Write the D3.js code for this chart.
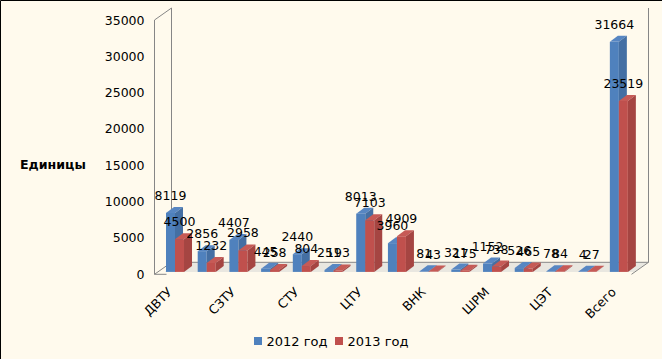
<!DOCTYPE html>
<html>
<head>
<meta charset="utf-8">
<script src="https://cdn.jsdelivr.net/npm/d3@7"></script>
<style>
html, body { margin: 0; padding: 0; background: #fffaed; }
svg { display: block; }
text { font-family: "DejaVu Sans", sans-serif; fill: #000; }
</style>
</head>
<body>
<div id="chart-area"></div>
<script>
/* 3D style clustered columns, two years */

// only every second category is labelled in the picture
var categories = ["ДВТУ", "", "СЗТУ", " ", "СТУ", "  ", "ЦТУ", "   ", "ВНК", "    ", "ШРМ", "     ", "ЦЭТ", "      ", "Всего"];
var values2012 = [8119, 2856, 4407, 445, 2440, 251, 8013, 3960, 81, 321, 1152, 526, 78, 4, 31664];
var values2013 = [4500, 1232, 2958, 258, 804, 193, 7103, 4909, 43, 175, 738, 465, 84, 27, 23519];
var yTicks = [0, 5000, 10000, 15000, 20000, 25000, 30000, 35000];
var seriesNames = ["2012 год", "2013 год"];

var width = 662, height = 359;
var depthX = 17, depthY = 12;      // wall depth
var barDepthX = 8, barDepthY = 6;  // bar depth

var svg = d3.select("#chart-area")
    .append("svg")
    .attr("width", width)
    .attr("height", height);

svg.append("rect")
    .attr("width", width).attr("height", height)
    .attr("fill", "#fffaed");

// black edge on top and left only
svg.append("path")
    .attr("d", d3.line()([[0.5, height], [0.5, 0.5], [width, 0.5]]))
    .attr("fill", "none")
    .attr("stroke", "#000");

var x = d3.scaleBand()
    .domain(categories)
    .range([159.66, 634.2])
    .paddingInner(0.432)
    .paddingOuter(0.2);

var inner = d3.scaleBand()
    .domain([0, 1])
    .range([0, x.bandwidth()]);

var y = d3.scaleLinear()
    .domain([0, 35000])
    .range([274.3, 20]);

var axisX0 = 154.5, axisX1 = 631.5;
var y0 = y(0), yTop = y(35000);
var baseShift = 2.4;  // bars stand slightly behind the front edge

// floor
svg.append("path")
    .attr("d", d3.line()([
        [165, y0 - baseShift], [axisX1 + 2, y0 - baseShift],
        [axisX1 + depthX, y0 - depthY], [axisX0 + depthX, y0 - depthY]
    ]))
    .attr("fill", "#e9e7e0");

// walls
var wall = svg.append("g")
    .attr("fill", "none")
    .attr("stroke", "#868686")
    .attr("stroke-width", 1);

wall.append("path")
    .attr("d", d3.line()([
        [axisX0, y0], [axisX0, yTop], [axisX0 + depthX, yTop - depthY],
        [axisX0 + depthX, y0 - depthY], [axisX1 + depthX, y0 - depthY],
        [axisX1 + depthX, yTop - depthY]
    ]));
wall.append("path")
    .attr("d", d3.line()([[axisX0, y0], [axisX0 + depthX, y0 - depthY]]));
wall.append("path")
    .attr("d", d3.line()([[axisX1, y0], [axisX1 + depthX, y0 - depthY]]));
wall.append("path")
    .attr("d", d3.line()([[axisX0, y0], [axisX0 + 12, y0]]));

var yAxisCall = d3.axisLeft(y)
    .tickValues(yTicks)
    .tickSize(0)
    .tickPadding(10)
    .tickFormat(d3.format("d"));

svg.append("g")
    .attr("class", "y-axis")
    .attr("transform", "translate(" + axisX0 + ",0)")
    .call(yAxisCall)
    .call(function(g) { g.select(".domain").remove(); })
    .selectAll("text")
    .attr("font-size", "12.5px")
    .attr("font-family", "DejaVu Sans");

var xAxisCall = d3.axisBottom(x)
    .tickSize(0)
    .tickFormat(function(d) { return d.trim(); });

svg.append("g")
    .attr("class", "x-axis")
    .attr("transform", "translate(0," + y0 + ")")
    .call(xAxisCall)
    .call(function(g) { g.select(".domain").remove(); })
    .selectAll("text")
    .attr("font-size", "12.5px")
    .attr("font-family", "DejaVu Sans")
    .attr("text-anchor", "end")
    .attr("x", 0)
    .attr("y", 0)
    .attr("dy", 0)
    .attr("transform", "translate(-2,18.5) rotate(-45)");

svg.append("text")
    .attr("x", 20)
    .attr("y", 169)
    .attr("font-size", "12.6px")
    .attr("font-weight", "bold")
    .text("Единицы");

var colors = [
    { front: "#4f81bd", top: "#5786c2", side: "#446fa3" },
    { front: "#c0504d", top: "#c65a56", side: "#a54542" }
];

function drawBar(parent, left, w, v, c) {
    var bottom = y(0) - baseShift, top = y(v) - baseShift;
    parent.append("rect")
        .attr("x", left).attr("y", top)
        .attr("width", w).attr("height", bottom - top)
        .attr("fill", c.front);
    parent.append("path")
        .attr("d", d3.line()([[left, top], [left + w, top], [left + w + barDepthX, top - barDepthY], [left + barDepthX, top - barDepthY]]))
        .attr("fill", c.top);
    parent.append("path")
        .attr("d", d3.line()([[left + w, top], [left + w + barDepthX, top - barDepthY], [left + w + barDepthX, bottom - barDepthY], [left + w, bottom]]))
        .attr("fill", c.side);
}

var bars = svg.append("g").attr("class", "bars");
categories.forEach(function(cat, i) {
    drawBar(bars, x(cat) + inner(0), inner.bandwidth(), values2012[i], colors[0]);
    drawBar(bars, x(cat) + inner(1), inner.bandwidth(), values2013[i], colors[1]);
});

var labels = svg.append("g").attr("class", "labels");
[values2012, values2013].forEach(function(vals, s) {
    labels.selectAll("text.s" + s)
        .data(vals)
        .enter()
        .append("text")
        .attr("class", "s" + s)
        .attr("x", function(d, i) { return x(categories[i]) + inner(s) + inner.bandwidth() / 2; })
        .attr("y", function(d) { return y(d) - baseShift - 13; })
        .attr("text-anchor", "middle")
        .attr("font-size", "12.5px")
        .text(function(d) { return d; });
});

var legendX = [254, 335];
var legend = svg.append("g").attr("class", "legend");
seriesNames.forEach(function(name, i) {
    legend.append("rect")
        .attr("x", legendX[i]).attr("y", 337)
        .attr("width", 8).attr("height", 8)
        .attr("fill", colors[i].front);
    legend.append("text")
        .attr("x", legendX[i] + 12.5)
        .attr("y", 345.5)
        .attr("font-size", "13px")
        .text(name);
});
</script>
</body>
</html>
